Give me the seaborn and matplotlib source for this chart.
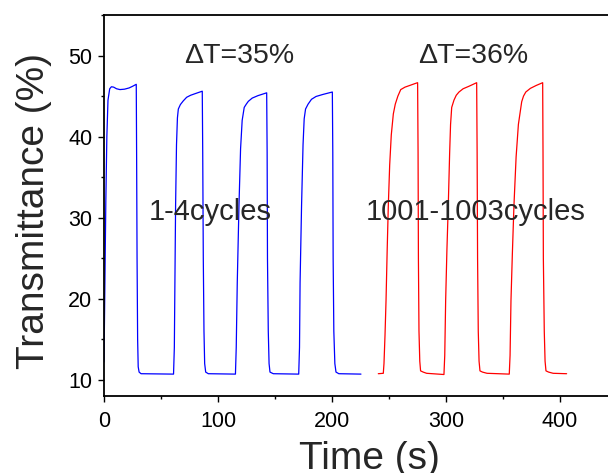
import matplotlib
matplotlib.use("Agg")
import matplotlib.pyplot as plt
from matplotlib.ticker import MultipleLocator
import seaborn as sns
import pandas as pd

# Cycles 1-4 (blue): time in s, transmittance in %
blue_time = [
    0, 0.8, 1.6, 2.5, 3.5, 5, 6.5, 8.5, 11, 14, 18, 22, 25, 28.3,
    28.6, 29.0, 29.5, 30.0, 30.8, 32.5, 61.0,
    61.7, 62.2, 62.8, 63.6, 64.4, 65.2, 67, 69.5, 72.5, 76, 80, 86.2,
    86.6, 87.1, 87.7, 88.3, 89.2, 91.5, 115.3,
    116.0, 116.9, 118.4, 119.8, 121.2, 123, 124.8, 126.6, 130, 135, 142.7,
    143.1, 143.4, 144.1, 144.8, 145.6, 148.5, 170.8,
    171.5, 172.0, 173.3, 174.6, 175.6, 176.8, 179, 182, 186, 192, 200.3,
    200.7, 201.0, 201.6, 202.5, 203.5, 206, 225.4,
]
blue_T = [
    12.2, 22, 32, 40, 44.5, 45.9, 46.15, 46.1, 45.9, 45.8, 45.85, 46.0, 46.2, 46.45,
    38, 25, 15, 11.6, 10.95, 10.75, 10.7,
    14, 22, 31.5, 39, 42.3, 43.4, 43.95, 44.4, 44.85, 45.1, 45.3, 45.6,
    38, 25, 16, 12, 10.95, 10.75, 10.7,
    14, 22, 31.5, 38.5, 42, 43.6, 44.0, 44.35, 44.75, 45.05, 45.4,
    38, 25, 16, 12, 10.95, 10.75, 10.7,
    14, 22, 31.5, 39, 42.2, 43.4, 44.0, 44.6, 44.95, 45.2, 45.5,
    38, 25, 16, 12, 10.95, 10.75, 10.7,
]

# Cycles 1001-1003 (red)
red_time = [
    240.6, 245.0,
    245.6, 246.5, 247.4, 248.4, 249.4, 250.6, 252.0, 253.8, 255.5, 257.8, 260.3,
    264, 268, 272, 275.1,
    275.5, 275.8, 276.3, 277.0, 277.7, 280, 283, 298.2,
    298.9, 299.7, 300.8, 302, 303.2, 304.0, 305, 307, 309, 311.4, 315, 320, 326.9,
    327.3, 327.7, 328.3, 329.0, 329.8, 332, 336, 355.5,
    356.2, 357, 358.2, 359.6, 361.5, 363.5, 366.4, 368, 370, 374, 379, 384.8,
    385.1, 385.4, 386.2, 386.9, 387.7, 390, 394, 405.8,
]
red_T = [
    10.75, 10.8,
    12, 15.5, 19.8, 26, 31.5, 36.5, 40.2, 42.8, 44.0, 45.0, 45.8,
    46.1, 46.3, 46.5, 46.65,
    38, 25, 16, 12.3, 11.1, 10.95, 10.8, 10.65,
    13, 19.8, 26, 31.5, 38, 41.5, 43.6, 44.5, 45.1, 45.5, 45.9, 46.2, 46.65,
    38, 25, 16, 12.3, 11.1, 10.95, 10.8, 10.7,
    13, 19.8, 25.5, 31.5, 37.5, 41.5, 44.3, 45.0, 45.5, 45.95, 46.3, 46.65,
    38, 25, 16, 12.3, 11.1, 10.95, 10.8, 10.75,
]

x_ticks = [0, 100, 200, 300, 400]
y_ticks = [10, 20, 30, 40, 50]

blue_df = pd.DataFrame({"Time": blue_time, "T": blue_T})
red_df = pd.DataFrame({"Time": red_time, "T": red_T})

sns.set_style("ticks")
plt.rcParams["font.family"] = ["Liberation Sans", "DejaVu Sans"]

W, H = 608, 473
fig = plt.figure(figsize=(W / 100, H / 100), dpi=100)
ax = fig.add_axes([104 / W, 77 / H, 513 / W, 381 / H])

sns.lineplot(data=blue_df, x="Time", y="T", ax=ax, color="#0000ff",
             linewidth=0.9, sort=False, estimator=None)
sns.lineplot(data=red_df, x="Time", y="T", ax=ax, color="#ff0000",
             linewidth=0.9, sort=False, estimator=None)

ax.set_xlim(0, 450)
ax.set_ylim(8, 55)
ax.set_xticks(x_ticks)
ax.set_yticks(y_ticks)
ax.xaxis.set_minor_locator(MultipleLocator(50))
ax.yaxis.set_minor_locator(MultipleLocator(5))
ax.tick_params(which="major", direction="out", length=4.5, width=1.0,
               labelsize=15.5, color="black", labelcolor="black")
ax.tick_params(which="minor", direction="out", length=2.5, width=1.0,
               color="black")
ax.tick_params(axis="x", which="major", pad=6)
ax.tick_params(axis="y", which="major", pad=4)
ax.tick_params(top=False, right=False, which="both")

for side in ("left", "bottom", "top"):
    ax.spines[side].set_visible(True)
    ax.spines[side].set_color("black")
    ax.spines[side].set_linewidth(1.3)
ax.spines["right"].set_visible(False)

ax.set_xlabel("")
ax.set_ylabel("")
fig.text(34 / W, 1 - 211 / H, "Transmittance (%)", rotation=90,
         ha="center", va="center", fontsize=28)
fig.text(369 / W, 1 - 469 / H, "Time (s)", ha="center", va="baseline",
         fontsize=28)

ax.text(119, 49.9, "\u0394T=35%", ha="center", va="center", fontsize=20.5)
ax.text(324, 49.9, "\u0394T=36%", ha="center", va="center", fontsize=20.5)
ax.text(93.5, 30.7, "1-4cycles", ha="center", va="center", fontsize=21)
ax.text(326, 30.7, "1001-1003cycles", ha="center", va="center", fontsize=21)

fig.savefig("out.png", dpi=100)
